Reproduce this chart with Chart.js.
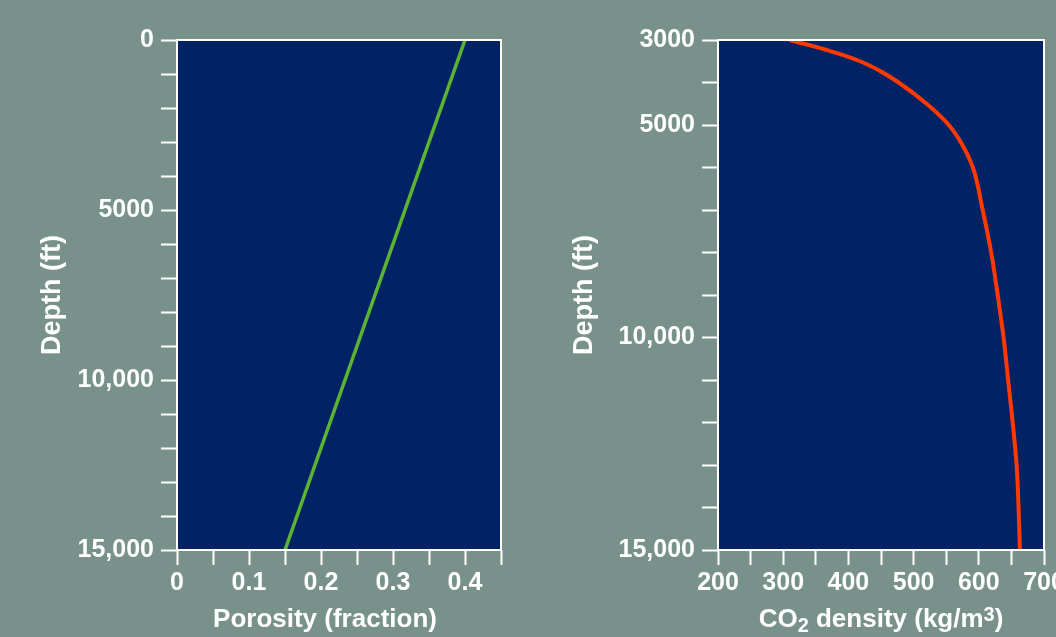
<!DOCTYPE html>
<html>
<head>
<meta charset="utf-8">
<script src="https://cdn.jsdelivr.net/npm/chart.js@4.4.1/dist/chart.umd.min.js"></script>
<style>
  html, body { margin: 0; padding: 0; background: #78918b; }
  .panel { position: absolute; top: 0; width: 528px; height: 637px; }
  #left { left: 0; }
  #right { left: 528px; }
</style>
</head>
<body>
<div class="panel" id="left"><canvas id="porosityChart" width="528" height="637"></canvas></div>
<div class="panel" id="right"><canvas id="densityChart" width="528" height="637"></canvas></div>
<script>
// porosity vs depth (straight trend)
const porosityDepth = [0, 15000];
const porosityValues = [0.4, 0.15];
const porosityDepthLabels = [0, 5000, 10000, 15000];
const porosityXLabels = [0, 0.1, 0.2, 0.3, 0.4];

// CO2 density vs depth
const densityDepth = [3000, 3250, 3500, 3750, 4000, 4500, 5000, 5500, 6000, 7000, 8000, 9000, 10000, 11000, 12000, 13000, 14000, 15000];
const densityValues = [310, 370, 418, 451, 477, 520, 554, 576, 591, 606, 619, 629, 638, 645, 652, 658, 661, 663];
const densityDepthLabels = [3000, 5000, 10000, 15000];
const densityXLabels = [200, 300, 400, 500, 600, 700];

const FONT = "Arial, 'Liberation Sans', sans-serif";
const WHITE = '#ffffff';
const NAVY = '#022266';

const fmtDepth = v => v >= 10000 ? v.toLocaleString('en-US') : String(v);

// navy plot background, white frame, and the x-axis title (with sub/superscripts)
const framePlugin = {
  id: 'frame',
  beforeDraw(chart) {
    const { ctx, chartArea: a } = chart;
    ctx.save();
    ctx.fillStyle = NAVY;
    ctx.fillRect(a.left, a.top, a.right - a.left, a.bottom - a.top);
    ctx.restore();
  },
  afterDatasetsDraw(chart) {
    const { ctx, chartArea: a } = chart;
    ctx.save();
    ctx.strokeStyle = WHITE;
    ctx.lineWidth = 2;
    ctx.strokeRect(a.left, a.top, a.right - a.left, a.bottom - a.top);
    ctx.restore();
  },
  afterDraw(chart, args, opts) {
    const { ctx, chartArea: a } = chart;
    const fontFor = p => `bold ${p.sub || p.sup ? 20 : 26}px ${FONT}`;
    ctx.save();
    ctx.fillStyle = WHITE;
    ctx.textBaseline = 'alphabetic';
    ctx.textAlign = 'left';
    let total = 0;
    opts.parts.forEach(p => { ctx.font = fontFor(p); total += ctx.measureText(p.t).width; });
    let x = (a.left + a.right) / 2 + opts.shift - total / 2;
    const base = a.bottom + 77;
    opts.parts.forEach(p => {
      ctx.font = fontFor(p);
      const dy = p.sub ? 5 : p.sup ? -6 : 0;
      ctx.fillText(p.t, x, base + dy);
      x += ctx.measureText(p.t).width;
    });
    ctx.restore();
  }
};

function makeChart(canvasId, cfg) {
  const pts = cfg.depth.map((d, i) => ({ x: cfg.values[i], y: d }));
  return new Chart(document.getElementById(canvasId), {
    type: 'line',
    data: {
      datasets: [{
        data: pts,
        borderColor: cfg.color,
        borderWidth: cfg.lineWidth,
        pointRadius: 0,
        cubicInterpolationMode: 'monotone',
        fill: false
      }]
    },
    options: {
      responsive: false,
      animation: false,
      indexAxis: 'y',
      layout: { padding: { top: 40, right: cfg.padRight, bottom: 0, left: 0 } },
      plugins: {
        legend: { display: false },
        tooltip: { enabled: false },
        frame: { parts: cfg.xTitle, shift: cfg.xTitleShift }
      },
      scales: {
        x: {
          type: 'linear',
          position: 'bottom',
          min: cfg.xMin,
          max: cfg.xMax,
          afterFit: s => { s.height = 87; s.paddingRight = 0; s.paddingLeft = 0; },
          border: { display: false },
          grid: { drawOnChartArea: false, drawTicks: true, tickLength: 15, tickWidth: 2, tickColor: WHITE },
          ticks: {
            stepSize: cfg.xStep,
            padding: 3,
            color: WHITE,
            maxRotation: 0,
            autoSkip: false,
            font: { family: FONT, size: 25, weight: 'bold' },
            callback: v => {
              const hit = cfg.xLabels.find(l => Math.abs(l - v) < 1e-9);
              return hit === undefined ? '' : String(hit);
            }
          }
        },
        y: {
          type: 'linear',
          position: 'left',
          reverse: true,
          min: cfg.yMin,
          max: cfg.yMax,
          afterFit: s => { s.width = cfg.yWidth; },
          border: { display: false },
          grid: { drawOnChartArea: false, drawTicks: true, tickLength: 16, tickWidth: 2, tickColor: WHITE },
          ticks: {
            stepSize: 1000,
            padding: 7,
            color: WHITE,
            autoSkip: false,
            font: { family: FONT, size: 25, weight: 'bold' },
            callback: v => cfg.yLabels.includes(v) ? fmtDepth(v) : ''
          },
          title: {
            display: true,
            text: 'Depth (ft)',
            color: WHITE,
            padding: { top: cfg.yTitlePad, bottom: 0 },
            font: { family: FONT, size: 27, weight: 'bold' }
          }
        }
      }
    },
    plugins: [framePlugin]
  });
}

makeChart('porosityChart', {
  depth: porosityDepth, values: porosityValues, color: '#5cb531', lineWidth: 3.5,
  xMin: 0, xMax: 0.45, xStep: 0.05, xLabels: porosityXLabels,
  xTitle: [{ t: 'Porosity (fraction)' }], xTitleShift: -14,
  yMin: 0, yMax: 15000, yLabels: porosityDepthLabels,
  yWidth: 177, yTitlePad: 36, padRight: 27
});

makeChart('densityChart', {
  depth: densityDepth, values: densityValues, color: '#ff3a00', lineWidth: 4,
  xMin: 200, xMax: 700, xStep: 50, xLabels: densityXLabels,
  xTitle: [{ t: 'CO' }, { t: '2', sub: true }, { t: ' density (kg/m' }, { t: '3', sup: true }, { t: ')' }],
  xTitleShift: 0,
  yMin: 3000, yMax: 15000, yLabels: densityDepthLabels,
  yWidth: 190, yTitlePad: 40, padRight: 12
});
</script>
</body>
</html>
